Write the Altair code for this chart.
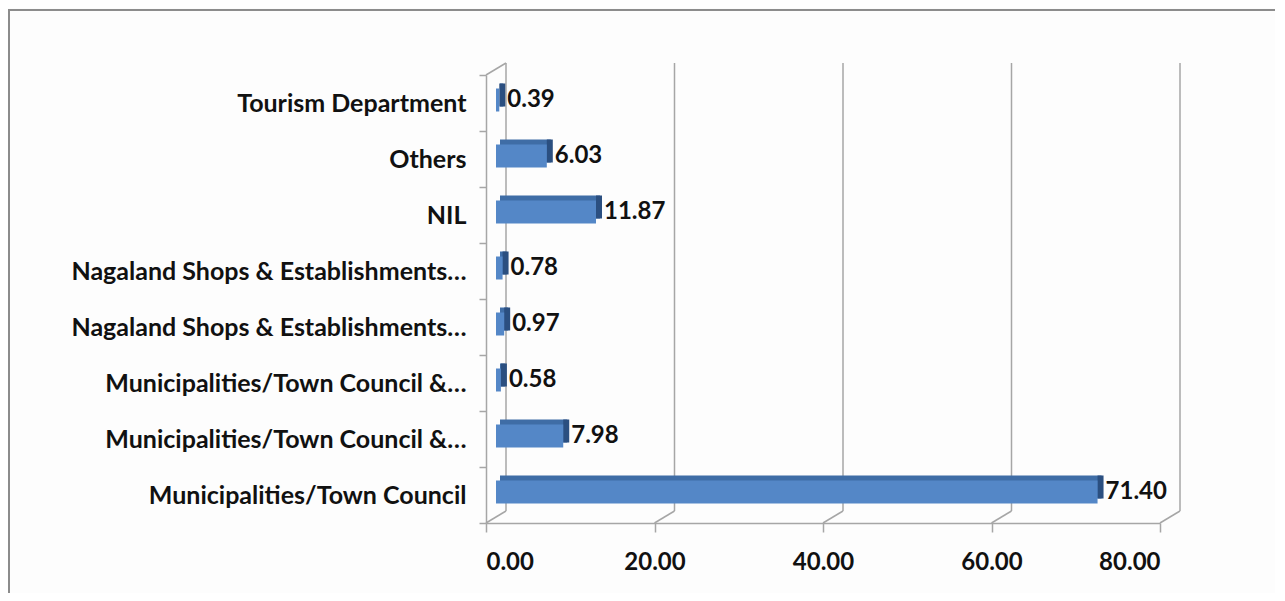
import altair as alt
import pandas as pd

categories = [
    "Tourism Department",
    "Others",
    "NIL",
    "Nagaland Shops & Establishments…",
    "Nagaland Shops & Establishments… ",
    "Municipalities/Town Council &…",
    "Municipalities/Town Council &… ",
    "Municipalities/Town Council",
]
values = [0.39, 6.03, 11.87, 0.78, 0.97, 0.58, 7.98, 71.40]
x_ticks = [0, 20, 40, 60, 80]

df = pd.DataFrame({"cat": categories, "val": values})
ticks_df = pd.DataFrame({"t": x_ticks})

FONT = "Lato"
GRID = "#a6a6a6"
W, H = 674, 448
DX, DY = 20, -12  # depth of the 3D box
BY = -3           # bar vertical shift (mid depth)
BX = 10           # bar horizontal shift (mid depth)

yenc = alt.Y("cat:N", sort=categories,
             scale=alt.Scale(paddingInner=0, paddingOuter=0),
             axis=alt.Axis(title=None, tickBand="extent", domainColor=GRID,
                           domainWidth=1.5, tickColor=GRID, tickWidth=1.5,
                           tickSize=7, labelPadding=13, labelFont=FONT,
                           labelFontSize=25, labelFontWeight="bold",
                           labelColor="#111111", labelLimit=460))
xscale = alt.Scale(domain=[0, 80], nice=False)

# chart border (decoration)
border = alt.Chart(pd.DataFrame({"a": [0]})).mark_rect(
    fill=None, stroke="#8c8c8c", strokeWidth=2
).encode(x=alt.value(-477), x2=alt.value(797), y=alt.value(-65), y2=alt.value(540))

# back wall gridlines
grid = alt.Chart(ticks_df).mark_rule(color=GRID, strokeWidth=1.5, xOffset=DX, x2Offset=DX).encode(
    x=alt.X("t:Q", scale=xscale,
            axis=alt.Axis(title=None, values=x_ticks, format=".2f", grid=False,
                          domainColor=GRID, domainWidth=1.5, tickColor=GRID,
                          tickWidth=1.5, tickSize=9, labelPadding=18,
                          labelFont=FONT, labelFontSize=24, labelFontWeight="bold",
                          labelColor="#111111")),
    y=alt.value(DY), y2=alt.value(H + DY))

# floor connectors
conn = alt.Chart(ticks_df).mark_rule(color=GRID, strokeWidth=1.5, x2Offset=DX).encode(
    x=alt.X("t:Q", scale=xscale), x2="t:Q",
    y=alt.value(H), y2=alt.value(H + DY))

# top-left connector
topconn = alt.Chart(pd.DataFrame({"t": [0]})).mark_rule(color=GRID, strokeWidth=1.5, x2Offset=DX).encode(
    x=alt.X("t:Q", scale=xscale), x2="t:Q",
    y=alt.value(0), y2=alt.value(DY))

base = alt.Chart(df)
top = base.mark_bar(size=23, color="#3f6da6", xOffset=BX + 4, x2Offset=BX + 4, yOffset=BY - 5).encode(
    x=alt.X("val:Q", scale=xscale), x2=alt.datum(0), y=yenc)
side = base.mark_bar(size=23, color="#2b4f80", xOffset=BX + 6, x2Offset=BX, yOffset=BY - 5).encode(
    x=alt.X("val:Q", scale=xscale), x2="val:Q", y=yenc)
front = base.mark_bar(size=23, color="#5487c7", xOffset=BX, x2Offset=BX, yOffset=BY).encode(
    x=alt.X("val:Q", scale=xscale), x2=alt.datum(0), y=yenc)
labels = base.mark_text(align="left", baseline="middle", dx=18, dy=-3, font=FONT,
                        fontSize=24, fontWeight="bold", color="#111111").encode(
    x=alt.X("val:Q", scale=xscale), y=yenc, text=alt.Text("val:Q", format=".2f"))

chart = alt.layer(border, grid, conn, topconn, top, side, front, labels).properties(
    width=W, height=H,
    autosize=alt.AutoSizeParams(type="none"),
    padding={"left": 478, "top": 67, "right": 115, "bottom": 70},
    background="#fdfdfd",
).configure_view(stroke=None)

chart.save("out.html", embed_options={"renderer": "svg", "actions": False})
